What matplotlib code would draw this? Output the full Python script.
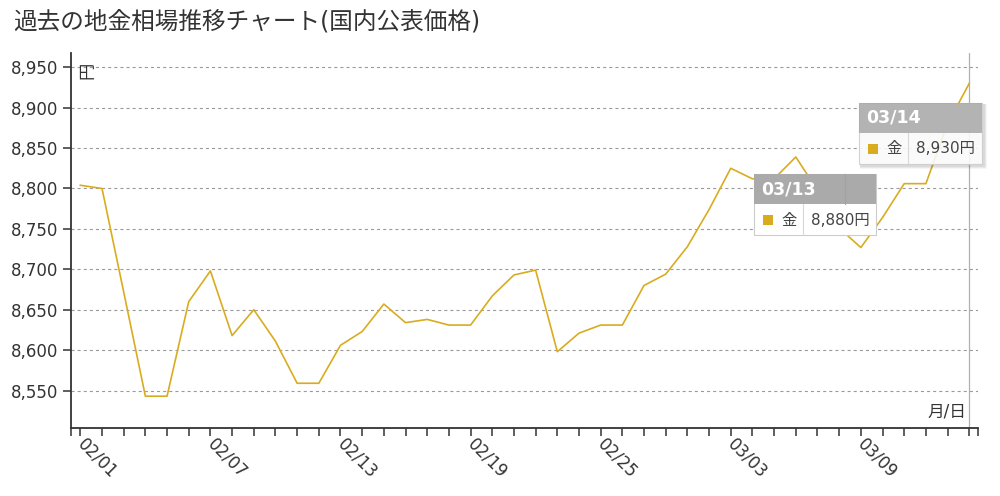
import numpy as np
import matplotlib
matplotlib.use("Agg")
import matplotlib.pyplot as plt
from matplotlib.patches import Rectangle
from matplotlib.transforms import Affine2D, ScaledTranslation

plt.rcParams['font.family'] = ['DejaVu Sans', 'Noto Sans CJK JP']
plt.rcParams['lines.scale_dashes'] = False

# daily gold prices (yen / g), 02/01 .. 03/14
dates = ['02/01', '02/02', '02/03', '02/04', '02/05', '02/06', '02/07', '02/08',
         '02/09', '02/10', '02/11', '02/12', '02/13', '02/14', '02/15', '02/16',
         '02/17', '02/18', '02/19', '02/20', '02/21', '02/22', '02/23', '02/24',
         '02/25', '02/26', '02/27', '02/28', '03/01', '03/02', '03/03', '03/04',
         '03/05', '03/06', '03/07', '03/08', '03/09', '03/10', '03/11', '03/12',
         '03/13', '03/14']
prices = [8804, 8800, 8672, 8543, 8543, 8660, 8698, 8618, 8650, 8611, 8559, 8559,
          8606, 8623, 8657, 8634, 8638, 8631, 8631, 8667, 8693, 8699, 8598, 8621,
          8631, 8631, 8680, 8694, 8728, 8774, 8825, 8812, 8812, 8839, 8798, 8751,
          8727, 8764, 8806, 8806, 8880, 8930]
yticks = [8550, 8600, 8650, 8700, 8750, 8800, 8850, 8900, 8950]

title = '過去の地金相場推移チャート(国内公表価格)'
gold = '#d9ac1f'
text_c = '#333333'

fig = plt.figure(figsize=(10, 4.96), dpi=100)
ax = fig.add_axes([0.071, 0.1377, 0.9067, 0.756])

x = np.arange(len(prices))
ax.plot(x, prices, color=gold, lw=1.2, zorder=3)

ax.set_xlim(-0.43, len(prices) - 1 + 0.39)
ax.set_ylim(8504, 8968)

# grid
for v in yticks:
    ax.axhline(v, color='#9a9a9a', lw=0.8, dashes=(2.2, 2.2), zorder=1)
ax.axvline(x[-1], color='#b0b0b0', lw=0.9, zorder=2)

for s in ['top', 'right']:
    ax.spines[s].set_visible(False)
for s in ['left', 'bottom']:
    ax.spines[s].set_color('#333333')
    ax.spines[s].set_linewidth(1.3)

ax.set_yticks(yticks)
ax.set_yticklabels(['{:,}'.format(v) for v in yticks], fontsize=12, color=text_c)
ax.set_xticks(x)
ax.set_xticklabels([d if i % 6 == 0 else '' for i, d in enumerate(dates)],
                   fontsize=12, color=text_c, rotation=-45,
                   rotation_mode='anchor', ha='left', va='center')
ax.set_xticks([ax.get_xlim()[0], ax.get_xlim()[1]], minor=True)
ax.tick_params(axis='both', which='both', length=6, width=1.1, color='#333333')
ax.tick_params(axis='x', pad=4)
ax.tick_params(axis='y', pad=3)

ax.text(0.008, 0.975, '円', transform=ax.transAxes, rotation=90, fontsize=12.5,
        color=text_c, ha='left', va='top')
ax.text(0.988, 0.02, '月/日', transform=ax.transAxes, fontsize=12,
        color=text_c, ha='right', va='bottom')

fig.text(0.013, 0.957, title, fontsize=17, color=text_c, ha='left', va='center')


def tooltip(i, dx, dy, w, alpha=1.0, shadow=False, hdiv=None):
    # local coords: pixels, y downward, origin at the data point
    t = Affine2D().scale(1, -1) + ScaledTranslation(x[i], prices[i], ax.transData)
    z = 5
    if shadow:
        for k, a in [(4, 0.04), (3, 0.05), (2, 0.06)]:
            ax.add_patch(Rectangle((dx + 1, dy + 1), w + k, 61 + k, transform=t,
                                   facecolor='black', alpha=a, lw=0, clip_on=False, zorder=z))
    ax.add_patch(Rectangle((dx, dy), w, 61, transform=t, facecolor='white',
                           edgecolor='#cccccc', lw=0.8, alpha=alpha, clip_on=False, zorder=z))
    ax.add_patch(Rectangle((dx, dy), w, 30, transform=t, facecolor='#aaaaaa',
                           lw=0, alpha=alpha, clip_on=False, zorder=z))
    if hdiv:
        ax.plot([dx + hdiv, dx + hdiv], [dy, dy + 30], transform=t, color='#a2a2a2',
                lw=0.8, clip_on=False, zorder=z)
    ax.plot([dx + 49, dx + 49], [dy + 30, dy + 61], transform=t, color='#d8d8d8',
            lw=0.8, clip_on=False, zorder=z)
    ax.add_patch(Rectangle((dx + 8.5, dy + 41), 10, 10, transform=t, facecolor=gold,
                           lw=0, clip_on=False, zorder=z + 1))
    ax.text(dx + 7, dy + 15, dates[i], transform=t, fontsize=12.5, fontweight='bold',
            color='white', ha='left', va='center', zorder=z + 1)
    ax.text(dx + 27, dy + 46, '金', transform=t, fontsize=11, color='#444444',
            ha='left', va='center', zorder=z + 1)
    ax.text(dx + 57, dy + 46, '{:,}円'.format(prices[i]), transform=t, fontsize=11,
            color='#444444', ha='left', va='center', zorder=z + 1)


tooltip(40, -193.2, 50.4, 122, hdiv=90.7)
tooltip(41, -110.2, 19.2, 123, alpha=0.88, shadow=True)

fig.savefig('out.png', dpi=100, facecolor='white')
